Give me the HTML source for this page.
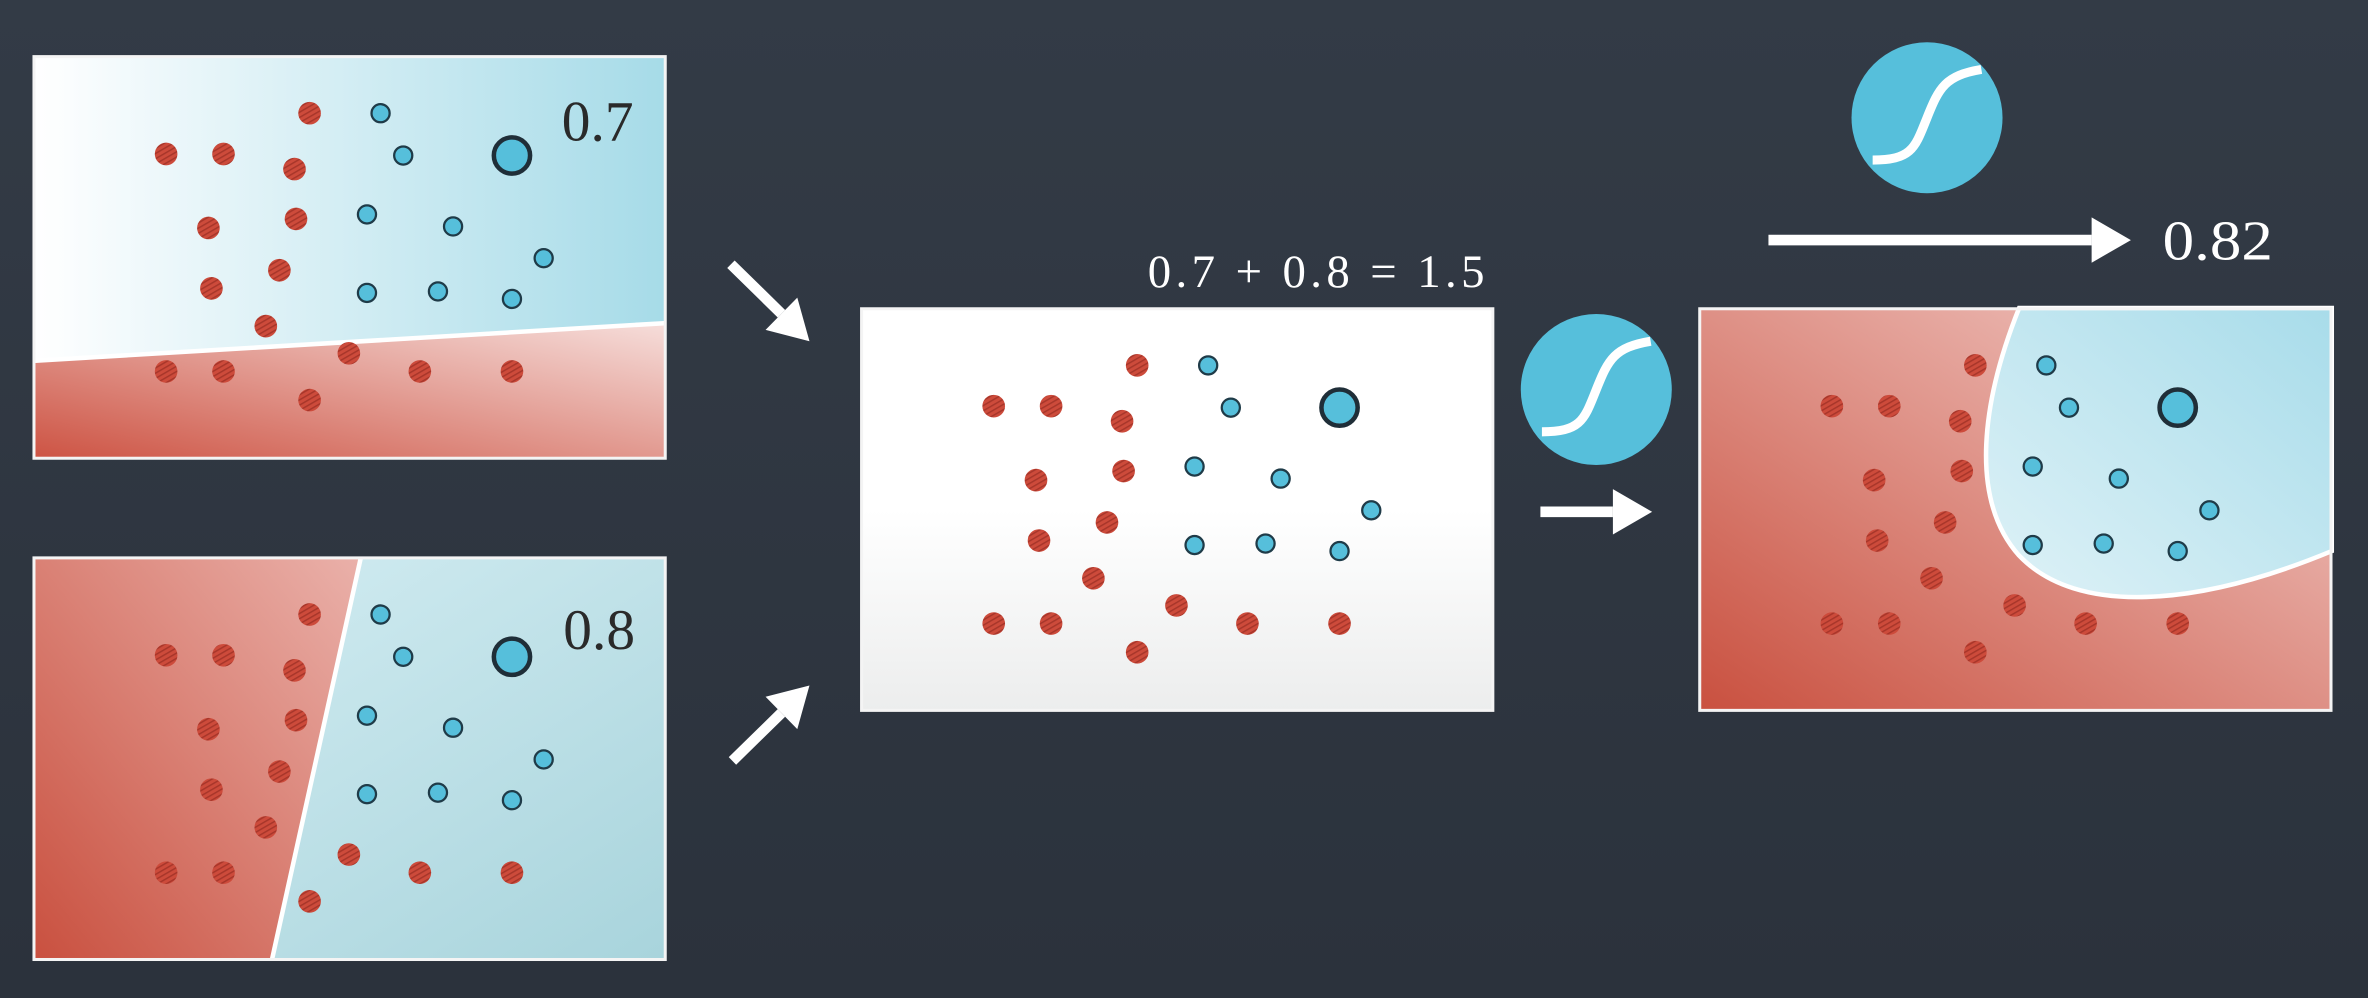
<!DOCTYPE html>
<html><head><meta charset="utf-8"><style>
html,body{margin:0;padding:0;background:#2f3741;overflow:hidden}
svg{display:block}
text{font-family:"Liberation Serif",serif;fill:#fff}
</style></head><body>
<svg id="s" width="2368" height="998" viewBox="0 0 1568 661" preserveAspectRatio="none" xmlns="http://www.w3.org/2000/svg">
<defs>
<linearGradient id="bg" x1="0" y1="0" x2="0" y2="1"><stop offset="0" stop-color="#333b46"/><stop offset="1" stop-color="#2b323c"/></linearGradient>
<linearGradient id="blueH" x1="0" y1="0" x2="1" y2="0"><stop offset="0" stop-color="#ffffff"/><stop offset="1" stop-color="#a6dbe8"/></linearGradient>
<linearGradient id="redH" x1="0" y1="1" x2="1" y2="0"><stop offset="0" stop-color="#cd5343"/><stop offset="1" stop-color="#f6dedb"/></linearGradient>
<linearGradient id="blueB" x1="0" y1="0" x2="1" y2="1"><stop offset="0" stop-color="#d9f0f5"/><stop offset="1" stop-color="#a8d4dc"/></linearGradient>
<linearGradient id="redB" x1="1" y1="0" x2="0" y2="1"><stop offset="0" stop-color="#eab1aa"/><stop offset="1" stop-color="#c9503f"/></linearGradient>
<linearGradient id="redR" x1="0" y1="1" x2="1" y2="0"><stop offset="0" stop-color="#c9503f"/><stop offset="1" stop-color="#f3d0cc"/></linearGradient>
<linearGradient id="blueR" x1="0" y1="1" x2="1" y2="0"><stop offset="0" stop-color="#dff2f7"/><stop offset="1" stop-color="#a8dcea"/></linearGradient>
<linearGradient id="white" x1="0" y1="0" x2="0" y2="1"><stop offset="0.5" stop-color="#ffffff"/><stop offset="1" stop-color="#eceded"/></linearGradient>
<pattern id="hatch" width="3" height="3" patternUnits="userSpaceOnUse" patternTransform="rotate(-30)">
<rect width="3" height="3" fill="#cd4b3b"/><rect width="3" height="1" fill="#a8362a"/></pattern>
</defs>
<rect width="1568" height="661" fill="url(#bg)"/>
<g id="panels"></g>
<g id="overlay">
<text x="372" y="93" font-size="38" style="fill:#2a2a2a">0.7</text>
<text x="373" y="430" font-size="38" style="fill:#2a2a2a">0.8</text>
<text x="760" y="190" font-size="31" textLength="223" lengthAdjust="spacing">0.7 + 0.8 = 1.5</text>
<text x="1432" y="172" font-size="37" textLength="73" lengthAdjust="spacingAndGlyphs">0.82</text>
</g>
</svg>
<script>
const redX=[205,110,148,195,138,196,140,185,176,110,148,231,278,339,205];
const redY=[75,102,102,112,151,145,191,179,216,246,246,234,246,246,265];
const blueX=[252,267,243,300,360,243,290,339];
const blueY=[75,103,142,150,171,194,193,198];
const bigX=[339],bigY=[103];
const panelOrigins=[[22,37],[22,369],[570,204],[1125,204]];
const NS="http://www.w3.org/2000/svg";
const g=document.getElementById('panels');
function mk(t,a,p){const e=document.createElementNS(NS,t);for(const k in a)e.setAttribute(k,a[k]);(p||g).appendChild(e);return e;}
const W=419,H=267;
const names=['top-left-panel','bottom-left-panel','combined-panel','result-panel'];
panelOrigins.forEach((o,i)=>{
  const [ox,oy]=o;
  const grp=mk('g',{transform:`translate(${ox},${oy})`});
  
  
  if(i===0){
    mk('rect',{width:W,height:H,fill:'url(#blueH)'},grp);
    mk('polygon',{points:`0,202 ${W},177 ${W},${H} 0,${H}`,fill:'url(#redH)'},grp);
    mk('line',{x1:0,y1:202,x2:W,y2:177,stroke:'#fff','stroke-width':3},grp);
  } else if(i===1){
    mk('rect',{width:W,height:H,fill:'url(#blueB)'},grp);
    mk('polygon',{points:`0,0 217,0 158,${H} 0,${H}`,fill:'url(#redB)'},grp);
    mk('line',{x1:217,y1:0,x2:158,y2:H,stroke:'#fff','stroke-width':3},grp);
  } else if(i===2){
    mk('rect',{width:W,height:H,fill:'url(#white)'},grp);
  } else {
    mk('rect',{width:W,height:H,fill:'url(#redR)'},grp);
    mk('path',{d:`M212,0 C188,60 178,126 212,164 C250,204 330,198 ${W},161 L${W},0 Z`,fill:'url(#blueR)',stroke:'#fff','stroke-width':3},grp);
  }
  mk('rect',{x:0.5,y:0.5,width:W-1,height:H-1,fill:'none',stroke:'#f4f4f4','stroke-width':2},grp);
  redX.forEach((x,j)=>{
    const c=mk('circle',{cx:x-22,cy:redY[j]-37,r:7.5,fill:'url(#hatch)'},grp);
    
    
  });
  blueX.forEach((x,j)=>{
    const c=mk('circle',{cx:x-22,cy:blueY[j]-37,r:6,fill:'#56bfdb',stroke:'#1f3b48','stroke-width':1.5},grp);
    
    
  });
  bigX.forEach((x,j)=>{
    const c=mk('circle',{cx:x-22,cy:bigY[j]-37,r:12,fill:'#56bfdb',stroke:'#1f2e38','stroke-width':3},grp);
    
    
  });
});
function sig(cx,cy,name){
  const grp=mk('g',{});
  
  
  mk('circle',{cx:cx,cy:cy,r:50,fill:'#56bfdb'},grp);
  mk('path',{d:`M${cx-36},${cy+28} C${cx-10},${cy+28} ${cx-8},${cy+20} ${cx},${cy} C${cx+8},${cy-20} ${cx+12},${cy-28} ${cx+36},${cy-32}`,fill:'none',stroke:'#fff','stroke-width':6},grp);
}
sig(1057,258,'sigmoid-icon-middle');
sig(1276,78,'sigmoid-icon-top');
function arrow(x1,y1,x2,y2,name){
  const grp=mk('g',{});
  
  
  const a=Math.atan2(y2-y1,x2-x1),L=Math.hypot(x2-x1,y2-y1),hl=26,hw=15;
  const bx=x1+(L-hl)*Math.cos(a),by=y1+(L-hl)*Math.sin(a);
  mk('line',{x1:x1,y1:y1,x2:bx,y2:by,stroke:'#fff','stroke-width':7},grp);
  const px=-Math.sin(a)*hw,py=Math.cos(a)*hw;
  mk('polygon',{points:`${x2},${y2} ${bx+px},${by+py} ${bx-px},${by-py}`,fill:'#fff'},grp);
}
arrow(484,175,536,226,'arrow-top-to-sum');
arrow(485,504,536,454,'arrow-bottom-to-sum');
arrow(1020,339,1094,339,'arrow-sum-to-result');
arrow(1171,159,1411,159,'arrow-to-output');
</script>
</body></html>
